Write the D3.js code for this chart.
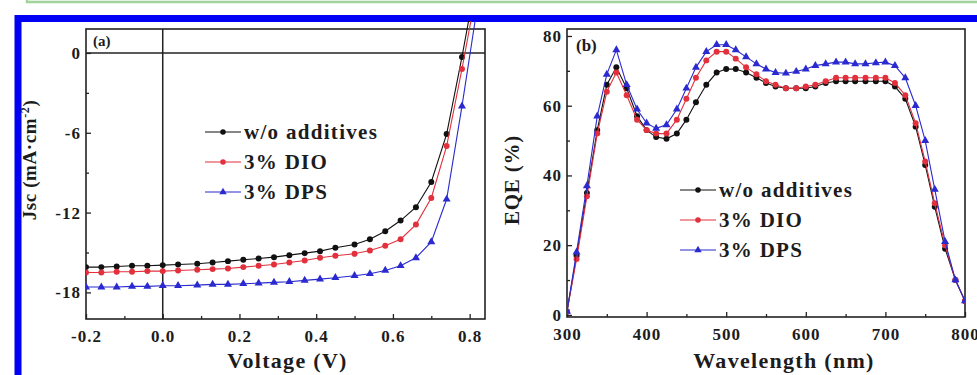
<!DOCTYPE html>
<html>
<head>
<meta charset="utf-8">
<script src="https://cdn.jsdelivr.net/npm/d3@7"></script>
<style>
  body { margin: 0; background: #fff; }
  svg text { font-family: "Liberation Serif", "Times New Roman", serif; font-weight: bold; fill: #1c1c1c; }
</style>
</head>
<body>
<svg id="chart"></svg>
<script>
// ---- (a) J-V curves ----
var voltage = [-0.20, -0.16, -0.12, -0.08, -0.04, 0.00, 0.04, 0.09, 0.13, 0.17, 0.21, 0.25, 0.29,
               0.33, 0.37, 0.41, 0.45, 0.50, 0.54, 0.58, 0.62, 0.66, 0.70, 0.74, 0.78, 0.82]
var jscWo  = [-16.1, -16.1, -16.05, -16.0, -16.0, -15.95, -15.9, -15.85, -15.75, -15.65, -15.55, -15.45, -15.35,
              -15.2, -15.05, -14.9, -14.65, -14.4, -14.0, -13.4, -12.6, -11.6, -9.7, -6.1, -0.3, 6.0]
var jscDio = [-16.5, -16.5, -16.45, -16.45, -16.4, -16.4, -16.35, -16.3, -16.25, -16.2, -16.1, -16.0, -15.9,
              -15.75, -15.6, -15.4, -15.25, -15.1, -14.85, -14.5, -14.0, -12.9, -10.9, -7.0, -1.2, 5.0]
var jscDps = [-17.6, -17.6, -17.6, -17.55, -17.55, -17.5, -17.5, -17.45, -17.4, -17.4, -17.35, -17.3, -17.25,
              -17.2, -17.1, -17.0, -16.9, -16.75, -16.6, -16.35, -16.0, -15.4, -14.2, -11.0, -4.0, 3.5]

// ---- (b) EQE spectra ----
var wavelength = [300, 312, 325, 338, 350, 362, 375, 388, 400, 412, 425, 438, 450, 462, 475, 488, 500, 512, 525, 538, 550,
                  562, 575, 588, 600, 612, 625, 638, 650, 662, 675, 688, 700, 712, 725, 738, 750, 762, 775, 788, 800]
var eqeWo  = [1, 17, 35, 53, 66, 71, 65, 57, 53, 51, 50.5, 52, 56, 61, 66, 69.5, 70.5, 70.5, 69.5, 68, 66.5,
              65.5, 65, 65, 65, 65.5, 66.5, 67, 67, 67, 67, 67, 67, 65.5, 62, 54, 43, 31, 19, 10, 4]
var eqeDio = [1, 16, 34, 52, 64, 69.5, 63, 56, 53, 52, 52, 56, 62, 68, 73, 75.5, 75.5, 73.5, 71, 69, 67,
              66, 65, 65, 65.5, 66, 67, 68, 68, 68, 68, 68, 68, 66.5, 63, 55, 44, 32, 20, 10, 4]
var eqeDps = [1, 18, 37, 57, 69, 76, 66, 59, 55, 53.5, 54.5, 59, 65, 71, 75.5, 77.5, 77.5, 76, 74, 72, 70.5,
              69.5, 69.3, 69.8, 70.5, 71.5, 72, 72.5, 72.5, 72, 72, 72.3, 72.5, 71.5, 68, 60, 50, 36, 21, 10, 4]

var seriesNames  = ['w/o additives', '3% DIO', '3% DPS']
var seriesColors = ['#111111', '#e2303c', '#2a2ad0']
var seriesShapes = ['circle', 'circle', 'triangle']

var vTicks = [-0.2, 0.0, 0.2, 0.4, 0.6, 0.8]
var vMinor = [-0.1, 0.1, 0.3, 0.5, 0.7]
var jTicks = [0, -6, -12, -18]
var jMinor = [-3, -9, -15]
var wTicks = [300, 400, 500, 600, 700, 800]
var wMinor = [350, 450, 550, 650, 750]
var eTicks = [0, 20, 40, 60, 80]
var eMinor = [10, 30, 50, 70]

var W = 977, H = 375

var svg = d3.select('#chart').attr('width', W).attr('height', H)

// outer decoration: green box at top and the blue frame
svg.append('rect').attr('x', 27).attr('y', -20).attr('width', 980).attr('height', 22)
    .attr('fill', '#fbfdfb').attr('stroke', '#9fd39a').attr('stroke-width', 2.5)
svg.append('rect').attr('x', 18).attr('y', 18.5).attr('width', 1000).attr('height', 400)
    .attr('fill', '#fff').attr('stroke', '#0000f5').attr('stroke-width', 7)

var boxA = { l: 86, r: 485, t: 29, b: 319 }
var boxB = { l: 567, r: 965, t: 29, b: 317 }

var x1 = d3.scaleLinear().domain([-0.2, 0.84]).range([boxA.l, boxA.r])
var y1 = d3.scaleLinear().domain([-20, 1.8]).range([boxA.b, boxA.t])
var x2 = d3.scaleLinear().domain([300, 800]).range([boxB.l, boxB.r])
var y2 = d3.scaleLinear().domain([-0.6, 82]).range([boxB.b, boxB.t])

function drawAxes(box, x, y, xt, xm, yt, ym, xfmt) {
    var g = svg.append('g')
    g.append('g').attr('transform', 'translate(0,' + box.b + ')')
        .call(d3.axisBottom(x).tickValues(xm).tickSize(-3).tickFormat(''))
    g.append('g').attr('transform', 'translate(' + box.l + ',0)')
        .call(d3.axisLeft(y).tickValues(ym).tickSize(-3).tickFormat(''))
    g.append('g').attr('class', 'xa').attr('transform', 'translate(0,' + box.b + ')')
        .call(d3.axisBottom(x).tickValues(xt).tickSize(-5).tickPadding(10).tickFormat(xfmt))
    g.append('g').attr('class', 'ya').attr('transform', 'translate(' + box.l + ',0)')
        .call(d3.axisLeft(y).tickValues(yt).tickSize(-5).tickPadding(5).tickFormat(d => String(d)))
    g.selectAll('.domain').remove()
    g.selectAll('.tick line').attr('stroke', '#222').attr('stroke-width', 1.3)
    g.selectAll('.tick text').style('font-size', '17px').style('letter-spacing', '1px')
    g.selectAll('.xa .tick text').attr('dy', '0.75em')
    g.append('rect').attr('x', box.l).attr('y', box.t)
        .attr('width', box.r - box.l).attr('height', box.b - box.t)
        .attr('fill', 'none').attr('stroke', '#222').attr('stroke-width', 1.6)
}

function drawSeries(clipId, box, x, y, xs, ys, i) {
    svg.append('clipPath').attr('id', clipId + i)
        .append('rect').attr('x', box.l).attr('y', box.t - 8)
        .attr('width', box.r - box.l).attr('height', box.b - box.t + 8)
    var pts = xs.map((v, k) => [v, ys[k]])
    var g = svg.append('g').attr('clip-path', 'url(#' + clipId + i + ')')
    g.append('path').datum(pts)
        .attr('fill', 'none').attr('stroke', seriesColors[i]).attr('stroke-width', 1.1)
        .attr('d', d3.line().x(d => x(d[0])).y(d => y(d[1])))
    var sym = d3.symbol().type(seriesShapes[i] == 'triangle' ? d3.symbolTriangle : d3.symbolCircle).size(28)
    g.selectAll('path.pt').data(pts).join('path').attr('class', 'pt')
        .attr('transform', d => 'translate(' + x(d[0]) + ',' + y(d[1]) + ')')
        .attr('d', sym).attr('fill', seriesColors[i])
}

function drawLegend(lx, ly) {
    seriesNames.forEach(function (name, i) {
        var yy = ly + i * 30
        svg.append('line').attr('x1', lx).attr('x2', lx + 36).attr('y1', yy).attr('y2', yy)
            .attr('stroke', seriesColors[i]).attr('stroke-width', 1.2)
        var sym = d3.symbol().type(seriesShapes[i] == 'triangle' ? d3.symbolTriangle : d3.symbolCircle).size(24)
        svg.append('path').attr('d', sym).attr('fill', seriesColors[i])
            .attr('transform', 'translate(' + (lx + 18) + ',' + yy + ')')
        svg.append('text').attr('x', lx + 39).attr('y', yy).attr('dy', '0.35em')
            .style('font-size', '21px').style('letter-spacing', '1.3px').text(name)
    })
}

// ---- panel (a) ----
drawAxes(boxA, x1, y1, vTicks, vMinor, jTicks, jMinor, d => d.toFixed(1))
svg.append('line').attr('x1', boxA.l).attr('x2', boxA.r).attr('y1', y1(0)).attr('y2', y1(0))
    .attr('stroke', '#222').attr('stroke-width', 1.5)
svg.append('line').attr('x1', x1(0)).attr('x2', x1(0)).attr('y1', boxA.t).attr('y2', boxA.b)
    .attr('stroke', '#222').attr('stroke-width', 1.5)
;[jscWo, jscDio, jscDps].forEach((ys, i) => drawSeries('clipA', boxA, x1, y1, voltage, ys, i))
drawLegend(205, 132)
svg.append('text').attr('x', 93).attr('y', 46).style('font-size', '15px').text('(a)')
svg.append('text').attr('x', (boxA.l + boxA.r) / 2 + 2).attr('y', 368).attr('text-anchor', 'middle')
    .style('font-size', '22px').style('letter-spacing', '1.3px').text('Voltage (V)')
var yl = svg.append('text').attr('transform', 'translate(36,160) rotate(-90)').attr('text-anchor', 'middle')
    .style('font-size', '19px').style('letter-spacing', '0.6px')
yl.append('tspan').text('Jsc (mA·cm')
yl.append('tspan').attr('dy', -7).style('font-size', '12px').text('-2')
yl.append('tspan').attr('dy', 7).text(')')

// ---- panel (b) ----
drawAxes(boxB, x2, y2, wTicks, wMinor, eTicks, eMinor, d => String(d))
;[eqeWo, eqeDio, eqeDps].forEach((ys, i) => drawSeries('clipB', boxB, x2, y2, wavelength, ys, i))
drawLegend(680, 190)
svg.append('text').attr('x', 576).attr('y', 51).style('font-size', '17px').text('(b)')
svg.append('text').attr('x', 784).attr('y', 368).attr('text-anchor', 'middle')
    .style('font-size', '22px').style('letter-spacing', '1.3px').text('Wavelength (nm)')
svg.append('text').attr('transform', 'translate(519,180) rotate(-90)').attr('text-anchor', 'middle')
    .style('font-size', '21px').style('letter-spacing', '0.8px').text('EQE (%)')
</script>
</body>
</html>
